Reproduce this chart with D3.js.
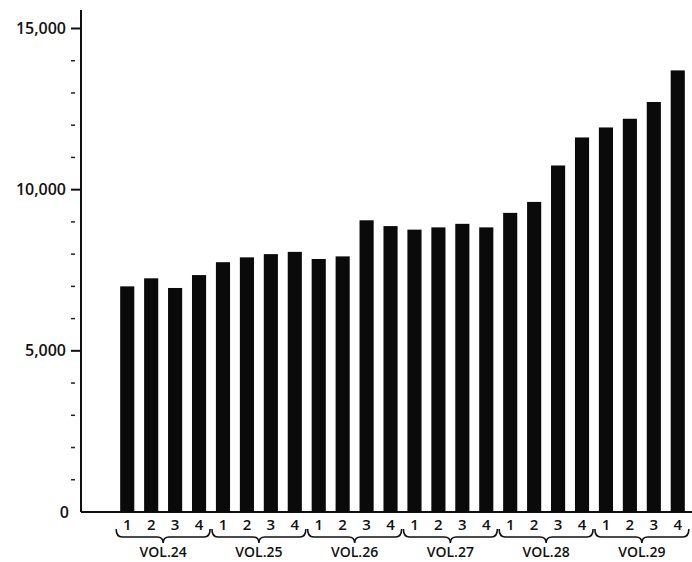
<!DOCTYPE html>
<html>
<head>
<meta charset="utf-8">
<script src="https://cdn.jsdelivr.net/npm/d3@7"></script>
<style>
  body { margin: 0; background: #fff; }
  svg text { font-family: "Open Sans", sans-serif; font-weight: 600; fill: #111; }
</style>
</head>
<body>
<svg id="chart"></svg>
<script>
// dados
var volumes = ["VOL.24", "VOL.25", "VOL.26", "VOL.27", "VOL.28", "VOL.29"];
var issues = ["1", "2", "3", "4"];
var values = [
    7000, 7250, 6950, 7350,
    7750, 7900, 8000, 8070,
    7850, 7930, 9050, 8870,
    8760, 8830, 8940, 8830,
    9280, 9620, 10750, 11620,
    11930, 12200, 12720, 13700
];
var majorTicks = [0, 5000, 10000, 15000];
var minorTicks = d3.range(1000, 15000, 1000).filter(function(v) { return v % 5000 != 0; });

var width = 692, height = 562;
var axisX = 81, baseY = 512;

var svg = d3.select("#chart")
    .attr("width", width)
    .attr("height", height);

var bars = [];
volumes.forEach(function(v, i) {
    issues.forEach(function(n, j) {
        bars.push({key: v + "-" + n, vol: v, issue: n, value: values[i * 4 + j]});
    });
});

var x = d3.scaleBand()
    .domain(bars.map(function(d) { return d.key; }))
    .range([113, 692])
    .paddingInner(0.41)
    .paddingOuter(0.3);

var y = d3.scaleLinear()
    .domain([0, 15000])
    .range([baseY, 28.5]);

// eixo vertical
svg.append("line")
    .attr("x1", axisX).attr("x2", axisX)
    .attr("y1", 10).attr("y2", baseY)
    .attr("stroke", "#111").attr("stroke-width", 2);

// linha de base
svg.append("line")
    .attr("x1", axisX).attr("x2", width)
    .attr("y1", baseY).attr("y2", baseY)
    .attr("stroke", "#111").attr("stroke-width", 2);

svg.append("g").selectAll("line")
    .data(majorTicks.filter(function(d) { return d > 0; }))
    .enter()
    .append("line")
    .attr("x1", 71).attr("x2", axisX)
    .attr("y1", function(d) { return y(d); })
    .attr("y2", function(d) { return y(d); })
    .attr("stroke", "#111").attr("stroke-width", 2);

svg.append("g").selectAll("line")
    .data(minorTicks)
    .enter()
    .append("line")
    .attr("x1", 71).attr("x2", 75)
    .attr("y1", function(d) { return y(d); })
    .attr("y2", function(d) { return y(d); })
    .attr("stroke", "#222").attr("stroke-width", 1.5);

svg.append("g").selectAll("text")
    .data(majorTicks)
    .enter()
    .append("text")
    .attr("x", function(d) { return d == 0 ? 69 : 66; })
    .attr("y", function(d) { return y(d); })
    .attr("dy", "0.35em")
    .attr("text-anchor", "end")
    .style("font-size", "16px")
    .text(function(d) { return d3.format(",")(d); });

// barras
svg.append("g").selectAll("rect")
    .data(bars)
    .enter()
    .append("rect")
    .attr("x", function(d) { return x(d.key); })
    .attr("y", function(d) { return y(d.value); })
    .attr("width", x.bandwidth())
    .attr("height", function(d) { return baseY - y(d.value); })
    .attr("fill", "#0a0a0a");

// numeros das edicoes
svg.append("g").selectAll("text")
    .data(bars)
    .enter()
    .append("text")
    .attr("x", function(d) { return x(d.key) + x.bandwidth() / 2; })
    .attr("y", 525)
    .attr("dy", "0.35em")
    .attr("text-anchor", "middle")
    .style("font-size", "15px")
    .text(function(d) { return d.issue; });

// chaves e nomes dos volumes
function bracePath(x0, x1) {
    var xm = (x0 + x1) / 2, y0 = 529, y1 = 537, y2 = 543;
    return "M" + x0 + "," + y0 +
        "Q" + x0 + "," + y1 + " " + (x0 + 6) + "," + y1 +
        "L" + (xm - 6) + "," + y1 +
        "Q" + xm + "," + y1 + " " + xm + "," + y2 +
        "Q" + xm + "," + y1 + " " + (xm + 6) + "," + y1 +
        "L" + (x1 - 6) + "," + y1 +
        "Q" + x1 + "," + y1 + " " + x1 + "," + y0;
}

var groups = volumes.map(function(v) {
    var first = x(v + "-" + issues[0]);
    var last = x(v + "-" + issues[issues.length - 1]) + x.bandwidth();
    return {vol: v, x0: first - 4, x1: last + 4};
});

svg.append("g").selectAll("path")
    .data(groups)
    .enter()
    .append("path")
    .attr("d", function(d) { return bracePath(d.x0, d.x1); })
    .attr("fill", "none")
    .attr("stroke", "#111")
    .attr("stroke-width", 1.6);

svg.append("g").selectAll("text")
    .data(groups)
    .enter()
    .append("text")
    .attr("x", function(d) { return (d.x0 + d.x1) / 2; })
    .attr("y", 552)
    .attr("dy", "0.35em")
    .attr("text-anchor", "middle")
    .style("font-size", "14px")
    .text(function(d) { return d.vol; });
</script>
</body>
</html>
